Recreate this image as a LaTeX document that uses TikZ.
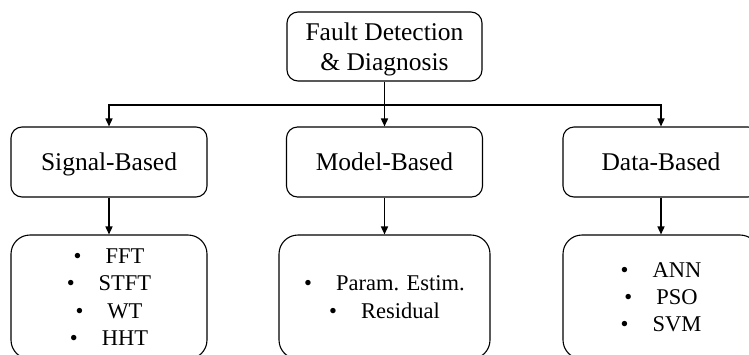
\documentclass[tikz,border=0pt]{standalone}
\usepackage{fontspec}
\setmainfont{Liberation Serif}
\usetikzlibrary{arrows.meta}
\begin{document}
\begin{tikzpicture}[x=1pt,y=-1pt,
  hbox/.style={draw, line width=1.1pt, rounded corners=11pt, align=center,
    inner sep=0pt, minimum width=196pt, minimum height=70pt, text depth=0pt,
    font=\fontsize{25.5}{30}\selectfont},
  lbox/.style={draw, line width=1.1pt, rounded corners=19pt, align=center,
    inner sep=0pt, minimum width=196pt, minimum height=124pt, text depth=0pt,
    font=\fontsize{22.5}{27.3}\selectfont},
  arr/.style={line width=1.5pt, -{Triangle[length=8pt,width=7pt]}}]
\useasboundingbox (0,0) rectangle (749,354);
\clip (0,0) rectangle (749,354);
\node[hbox, minimum width=195pt, minimum height=69pt] (top) at (384.5,46.5) {Fault Detection\\\& Diagnosis};
\node[hbox] (sig) at (109,162) {Signal-Based};
\node[hbox] (mod) at (384.5,162) {Model-Based};
\node[hbox] (dat) at (661,162) {Data-Based};
\node[lbox] (sigl) at (109,297) {\textbullet\hspace{24pt}FFT\\\textbullet\hspace{24pt}STFT\\\textbullet\hspace{24pt}WT\\\textbullet\hspace{24pt}HHT};
\node[lbox, minimum width=211pt] (modl) at (384.5,297) {\textbullet\hspace{24pt}Param. Estim.\\\textbullet\hspace{24pt}Residual};
\node[lbox] (datl) at (661,297) {\textbullet\hspace{24pt}ANN\\\textbullet\hspace{24pt}PSO\\\textbullet\hspace{24pt}SVM};
\coordinate (j2) at (384.5,105);
\draw[arr] (top.south) -- (j2) -| (sig.north);
\draw[arr] (j2) -| (dat.north);
\draw[arr] (j2) -- (mod.north);
\draw[arr] (sig.south) -- (sigl.north);
\draw[arr] (mod.south) -- (modl.north);
\draw[arr] (dat.south) -- (datl.north);
\end{tikzpicture}
\end{document}
